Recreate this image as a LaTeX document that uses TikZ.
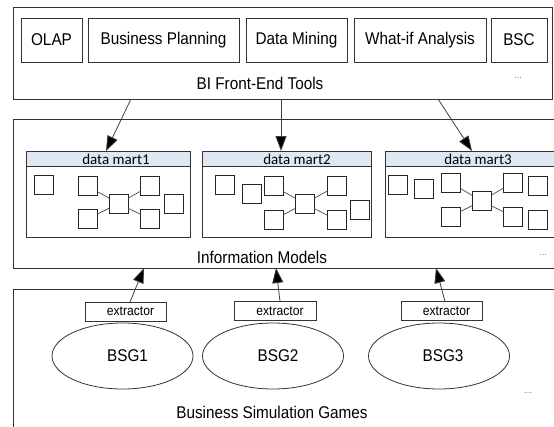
\documentclass[tikz,border=0pt]{standalone}
\usepackage{fontspec}
\setmainfont{Liberation Sans}[FakeStretch=0.9]
\newfontfamily\calib{Carlito}
\usetikzlibrary{arrows.meta,shapes.geometric}
\definecolor{hdr}{HTML}{DEE8F5}
\definecolor{edge}{HTML}{333333}
\begin{document}
\begin{tikzpicture}[x=1pt,y=-1pt,
  box/.style={draw=edge, line width=0.8pt, inner sep=0pt, outer sep=0pt},
  tool/.style={box, minimum height=44pt, font=\fontsize{17}{20}\selectfont},
  txt/.style={font=\fontsize{17}{20}\selectfont, inner sep=0pt},
  dots/.style={font=\fontsize{10}{12}\selectfont, text=gray, inner sep=0pt},
  sq/.style={draw=black!85, line width=0.8pt, minimum size=19pt, inner sep=0pt, outer sep=0pt, fill=white},
  link/.style={draw=black!70, line width=0.7pt},
  arr/.style={draw=black!75, line width=0.8pt, -{Triangle[length=15pt,width=11pt,fill=black]}},
  dmtitle/.style={font=\calib\fontsize{15}{17}\selectfont, inner sep=0pt},
  hdrbox/.style={box, fill=hdr, minimum height=15pt, anchor=north},
  ext/.style={box, fill=white, minimum width=81pt, minimum height=19pt, font=\fontsize{13.5}{16}\selectfont},
  bsg/.style={draw=edge, line width=0.8pt, ellipse, minimum width=141pt, minimum height=66pt, inner sep=0pt, outer sep=0pt, font=\fontsize{17}{20}\selectfont}
]
\useasboundingbox (0,0) rectangle (554,426);
\clip (0,0) rectangle (554,426);

% ---------- top layer ----------
\node[box, minimum width=539pt, minimum height=92pt] (top) at (282.5,53) {};
\node[tool, minimum width=61pt]  (olap) at (51.5,40)  {OLAP};
\node[tool, minimum width=151pt] (bp)   at (163.5,40) {Business Planning};
\node[tool, minimum width=101pt] (dmin) at (296.5,40) {Data Mining};
\node[tool, minimum width=132pt] (wi)   at (420,40)   {What-if Analysis};
\node[tool, minimum width=56pt]  (bsc)  at (519,40)   {BSC};
\node[txt] (bilab) at (260,83) {BI Front-End Tools};
\node[dots] (dots1) at (518,78) {...};

% ---------- middle layer ----------
\node[box, minimum width=547pt, minimum height=149pt] (mid) at (286.5,193.5) {};
\node[box, minimum width=164pt, minimum height=86pt] (dm1) at (108,194) {};
\node[box, minimum width=169pt, minimum height=86pt] (dm2) at (286.5,194) {};
\node[box, minimum width=186pt, minimum height=86pt] (dm3) at (478,194) {};
\node[hdrbox, minimum width=164pt] (h1) at (dm1.north) {};
\node[hdrbox, minimum width=169pt] (h2) at (dm2.north) {};
\node[hdrbox, minimum width=186pt] (h3) at (dm3.north) {};
\node[dmtitle] (t1) at (116,159) {data mart1};
\node[dmtitle] (t2) at (297,159) {data mart2};
\node[dmtitle] (t3) at (478,159) {data mart3};
\node[txt] (imlab) at (262,257) {Information Models};
\node[dots] (dots2) at (543,255) {...};

% data mart 1
\node[sq] (a1) at (43.5,185) {};
\node[sq] (a2) at (87.5,186) {};
\node[sq] (a3) at (87.5,219) {};
\node[sq] (a4) at (118.5,203.5) {};
\node[sq] (a5) at (150,186) {};
\node[sq] (a6) at (150,219) {};
\node[sq] (a7) at (173.5,203.5) {};
\foreach \s in {a2,a3,a5,a6} \draw[link] (a4) -- (\s);

% data mart 2
\node[sq] (b1) at (225,185) {};
\node[sq] (b2) at (252,193.5) {};
\node[sq] (b3) at (273.5,186) {};
\node[sq] (b4) at (273.5,220) {};
\node[sq] (b5) at (304.5,203.5) {};
\node[sq] (b6) at (336.5,186) {};
\node[sq] (b7) at (336.5,220) {};
\node[sq] (b8) at (360,210) {};
\foreach \s in {b3,b4,b6,b7} \draw[link] (b5) -- (\s);

% data mart 3
\node[sq] (c1) at (398,184.5) {};
\node[sq] (c2) at (423.5,189) {};
\node[sq] (c3) at (450.5,182.5) {};
\node[sq] (c4) at (450.5,216.5) {};
\node[sq] (c5) at (481.5,201) {};
\node[sq] (c6) at (513,182.5) {};
\node[sq] (c7) at (513,216.5) {};
\node[sq] (c8) at (538,186) {};
\node[sq] (c9) at (538,220) {};
\foreach \s in {c3,c4,c6,c7} \draw[link] (c5) -- (\s);

% ---------- bottom layer ----------
\node[box, minimum width=547pt, minimum height=160pt] (bot) at (286.5,369) {};
\node[ext] (ex1) at (125.5,311.5) {\hspace*{10pt}extractor};
\node[ext, minimum width=82pt] (ex2) at (275,311) {\hspace*{10pt}extractor};
\node[ext] (ex3) at (441.5,311) {\hspace*{10pt}extractor};
\node[bsg] (bsg1) at (122.5,356) {\hspace*{10pt}BSG1};
\node[bsg] (bsg2) at (273,356) {\hspace*{10pt}BSG2};
\node[bsg] (bsg3) at (439,356) {\hspace*{8pt}BSG3};
\node[txt] (bslab) at (272,412) {Business Simulation Games};
\node[dots] (dots3) at (528,393) {...};

% ---------- arrows ----------
\draw[arr] (top.south -| 131,0) -- (h1.north -| 106,0);
\draw[arr] (top.south -| 281,0) -- (h2.north -| 281,0);
\draw[arr] (top.south -| 438,0) -- (h3.north -| 472,0);
\draw[arr] (ex1.north -| 130,0) -- (mid.south -| 144,0);
\draw[arr] (ex2.north -| 280,0) -- (mid.south -| 276,0);
\draw[arr] (ex3.north -| 445,0) -- (mid.south -| 436,0);
\end{tikzpicture}
\end{document}
